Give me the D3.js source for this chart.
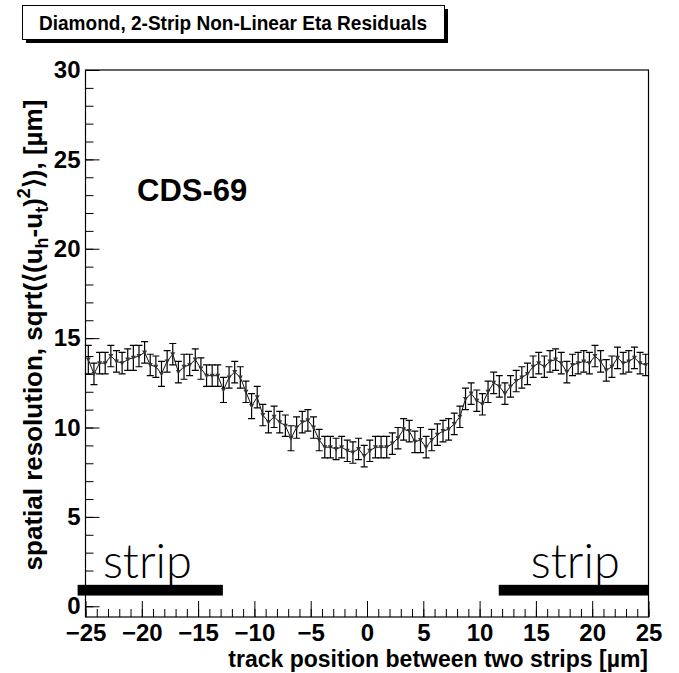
<!DOCTYPE html>
<html>
<head>
<meta charset="utf-8">
<script src="https://cdn.jsdelivr.net/npm/d3@7"></script>
<style>
  body { margin: 0; background: #fff; }
  svg { font-family: "Liberation Sans", Arial, sans-serif; }
  .tick text { font-weight: bold; fill: #000; }
</style>
</head>
<body>
<svg id="chart" width="679" height="673"></svg>
<script>
// bin centres, 0.5 um wide bins from -25 to 25
const binCenters = d3.range(100).map(i => -24.75 + 0.5 * i)
const resolution = [
  13.8, 13.0, 13.6, 13.6, 14.0, 13.7, 13.6, 13.8, 13.9, 14.0,
  14.2, 13.5, 13.4, 13.0, 13.7, 14.1, 13.1, 13.4, 13.5, 13.8,
  13.3, 12.9, 12.9, 12.9, 12.1, 12.8, 13.1, 12.8, 12.0, 11.2,
  11.7, 10.7, 10.3, 10.6, 10.3, 10.1, 9.4, 10.0, 10.3, 10.4,
  10.0, 9.3, 8.9, 8.9, 8.8, 8.9, 8.7, 8.6, 8.8, 8.4,
  8.7, 8.9, 8.9, 8.9, 9.1, 9.4, 9.9, 9.8, 9.2, 9.3,
  8.9, 9.3, 9.6, 9.8, 9.9, 10.2, 10.6, 11.6, 11.9, 11.5,
  11.3, 12.0, 12.5, 12.3, 11.9, 12.3, 12.6, 12.8, 13.0, 13.4,
  13.6, 13.4, 13.7, 13.8, 13.6, 13.1, 13.5, 13.6, 13.7, 13.6,
  14.0, 13.7, 13.2, 13.4, 13.9, 13.6, 13.7, 13.9, 13.6, 13.5
]
const errors = [
  0.8, 0.6, 0.6, 0.6, 0.6, 0.6, 0.6, 0.6, 0.7, 0.6,
  0.6, 0.6, 0.6, 0.7, 0.6, 0.6, 0.6, 0.7, 0.6, 0.6,
  0.6, 0.6, 0.6, 0.6, 0.7, 0.6, 0.6, 0.6, 0.6, 0.7,
  0.6, 0.6, 0.6, 0.6, 0.6, 0.6, 0.7, 0.6, 0.6, 0.6,
  0.6, 0.6, 0.6, 0.6, 0.6, 0.6, 0.6, 0.6, 0.6, 0.6,
  0.6, 0.6, 0.6, 0.6, 0.6, 0.6, 0.6, 0.6, 0.6, 0.7,
  0.6, 0.6, 0.6, 0.6, 0.6, 0.6, 0.6, 0.6, 0.6, 0.6,
  0.6, 0.6, 0.6, 0.6, 0.6, 0.6, 0.6, 0.6, 0.6, 0.6,
  0.6, 0.6, 0.6, 0.6, 0.6, 0.6, 0.6, 0.6, 0.6, 0.6,
  0.6, 0.6, 0.6, 0.6, 0.6, 0.6, 0.6, 0.6, 0.6, 0.6
]
const xTicks = [-25, -20, -15, -10, -5, 0, 5, 10, 15, 20, 25]
const yTicks = [0, 5, 10, 15, 20, 25, 30]
// strip electrodes, drawn as black bars near the bottom
const strips = [
  {from: -25.7, to: -12.8, label: "strip", labelX: -19.5},
  {from: 11.7, to: 25, label: "strip", labelX: 18.5}
]

const data = binCenters.map((x, i) => ({x: x, y: resolution[i], e: errors[i]}))

const svg = d3.select("#chart")
svg.append("rect").attr("width", 679).attr("height", 673).attr("fill", "#fff")

const xScale = d3.scaleLinear().domain([-25, 25]).range([85.5, 648.5])
const yScale = d3.scaleLinear().domain([-0.6, 30]).range([617, 70])

// title box with shadow
svg.append("rect").attr("x", 26).attr("y", 9).attr("width", 422).attr("height", 34).attr("fill", "#000")
svg.append("rect").attr("x", 22.5).attr("y", 5.5).attr("width", 422).attr("height", 34)
  .attr("fill", "#fff").attr("stroke", "#000").attr("stroke-width", 1)
svg.append("text").attr("x", 233).attr("y", 30)
  .attr("text-anchor", "middle").attr("font-weight", "bold").attr("font-size", 21)
  .attr("textLength", 388).attr("lengthAdjust", "spacingAndGlyphs")
  .text("Diamond, 2-Strip Non-Linear Eta Residuals")

// minor ticks
svg.append("g").attr("transform", `translate(0,${yScale(-0.6)})`)
  .call(d3.axisBottom(xScale).tickValues(d3.range(-25, 26, 1)).tickSizeInner(-8).tickSizeOuter(0).tickFormat(""))
  .call(g => g.select(".domain").remove())
svg.append("g").attr("transform", `translate(${xScale(-25)},0)`)
  .call(d3.axisLeft(yScale).tickValues(d3.range(0, 31, 1)).tickSizeInner(-8).tickSizeOuter(0).tickFormat(""))
  .call(g => g.select(".domain").remove())

// major ticks + labels
svg.append("g").attr("transform", `translate(0,${yScale(-0.6)})`)
  .call(d3.axisBottom(xScale).tickValues(xTicks).tickSizeInner(-16).tickSizeOuter(0).tickPadding(7))
  .call(g => g.select(".domain").remove())
  .call(g => g.selectAll(".tick text").attr("font-size", 24).attr("font-family", "Liberation Sans"))
svg.append("g").attr("transform", `translate(${xScale(-25)},0)`)
  .call(d3.axisLeft(yScale).tickValues(yTicks).tickSizeInner(-14).tickSizeOuter(0).tickPadding(5))
  .call(g => g.select(".domain").remove())
  .call(g => g.selectAll(".tick text").attr("font-size", 24).attr("font-family", "Liberation Sans"))
svg.selectAll(".tick line").attr("stroke", "#000")

// frame
svg.append("rect")
  .attr("x", xScale(-25)).attr("y", yScale(30))
  .attr("width", xScale(25) - xScale(-25)).attr("height", yScale(-0.6) - yScale(30))
  .attr("fill", "none").attr("stroke", "#000").attr("stroke-width", 1.2)

// strip bars
svg.selectAll(".stripBar")
  .data(strips)
  .join("rect")
  .attr("class", "stripBar")
  .attr("x", d => xScale(d.from))
  .attr("width", d => xScale(d.to) - xScale(d.from))
  .attr("y", yScale(1.2))
  .attr("height", yScale(0.6) - yScale(1.2))
  .attr("fill", "#000")
svg.selectAll(".stripLabel")
  .data(strips)
  .join("text")
  .attr("class", "stripLabel")
  .attr("x", d => xScale(d.labelX))
  .attr("y", yScale(1.6))
  .attr("text-anchor", "middle")
  .attr("font-family", "Lato")
  .attr("font-weight", 300)
  .attr("font-size", 47)
  .text(d => d.label)

// error bars
const eb = svg.append("g").attr("stroke", "#000").attr("stroke-width", 1.2)
eb.selectAll(".err")
  .data(data)
  .join("path")
  .attr("d", d => {
    const x = xScale(d.x), y0 = yScale(d.y - d.e), y1 = yScale(d.y + d.e)
    return `M${x},${y0}V${y1}M${x - 3.5},${y0}H${x + 3.5}M${x - 3.5},${y1}H${x + 3.5}`
  })

// connecting line
svg.append("path")
  .datum(data)
  .attr("fill", "none")
  .attr("stroke", "#111")
  .attr("stroke-width", 1)
  .attr("d", d3.line().x(d => xScale(d.x)).y(d => yScale(d.y)))

// markers: small down-pointing triangles
svg.selectAll(".marker")
  .data(data)
  .join("path")
  .attr("class", "marker")
  .attr("transform", d => `translate(${xScale(d.x)},${yScale(d.y)})`)
  .attr("d", "M-2.5,-2L2.5,-2L0,2.5Z")
  .attr("fill", "#333")

// label inside the plot
svg.append("text").attr("x", 137).attr("y", 201)
  .attr("font-weight", "bold").attr("font-size", 31)
  .text("CDS-69")

// axis titles
svg.append("text").attr("x", 648).attr("y", 667)
  .attr("text-anchor", "end").attr("font-weight", "bold").attr("font-size", 23)
  .text("track position between two strips [\u00b5m]")

const yl = svg.append("text")
  .attr("transform", "translate(42,335) rotate(-90)")
  .attr("text-anchor", "middle").attr("font-weight", "bold").attr("font-size", 26)
yl.append("tspan").text("spatial resolution, sqrt(\u27e8(u")
yl.append("tspan").attr("font-size", 18).attr("dy", 6).text("h")
yl.append("tspan").attr("dy", -6).text("-u")
yl.append("tspan").attr("font-size", 18).attr("dy", 6).text("t")
yl.append("tspan").attr("dy", -6).text(")")
yl.append("tspan").attr("font-size", 18).attr("dy", -12).text("2")
yl.append("tspan").attr("dy", 12).text("\u27e9), [\u00b5m]")
</script>
</body>
</html>
